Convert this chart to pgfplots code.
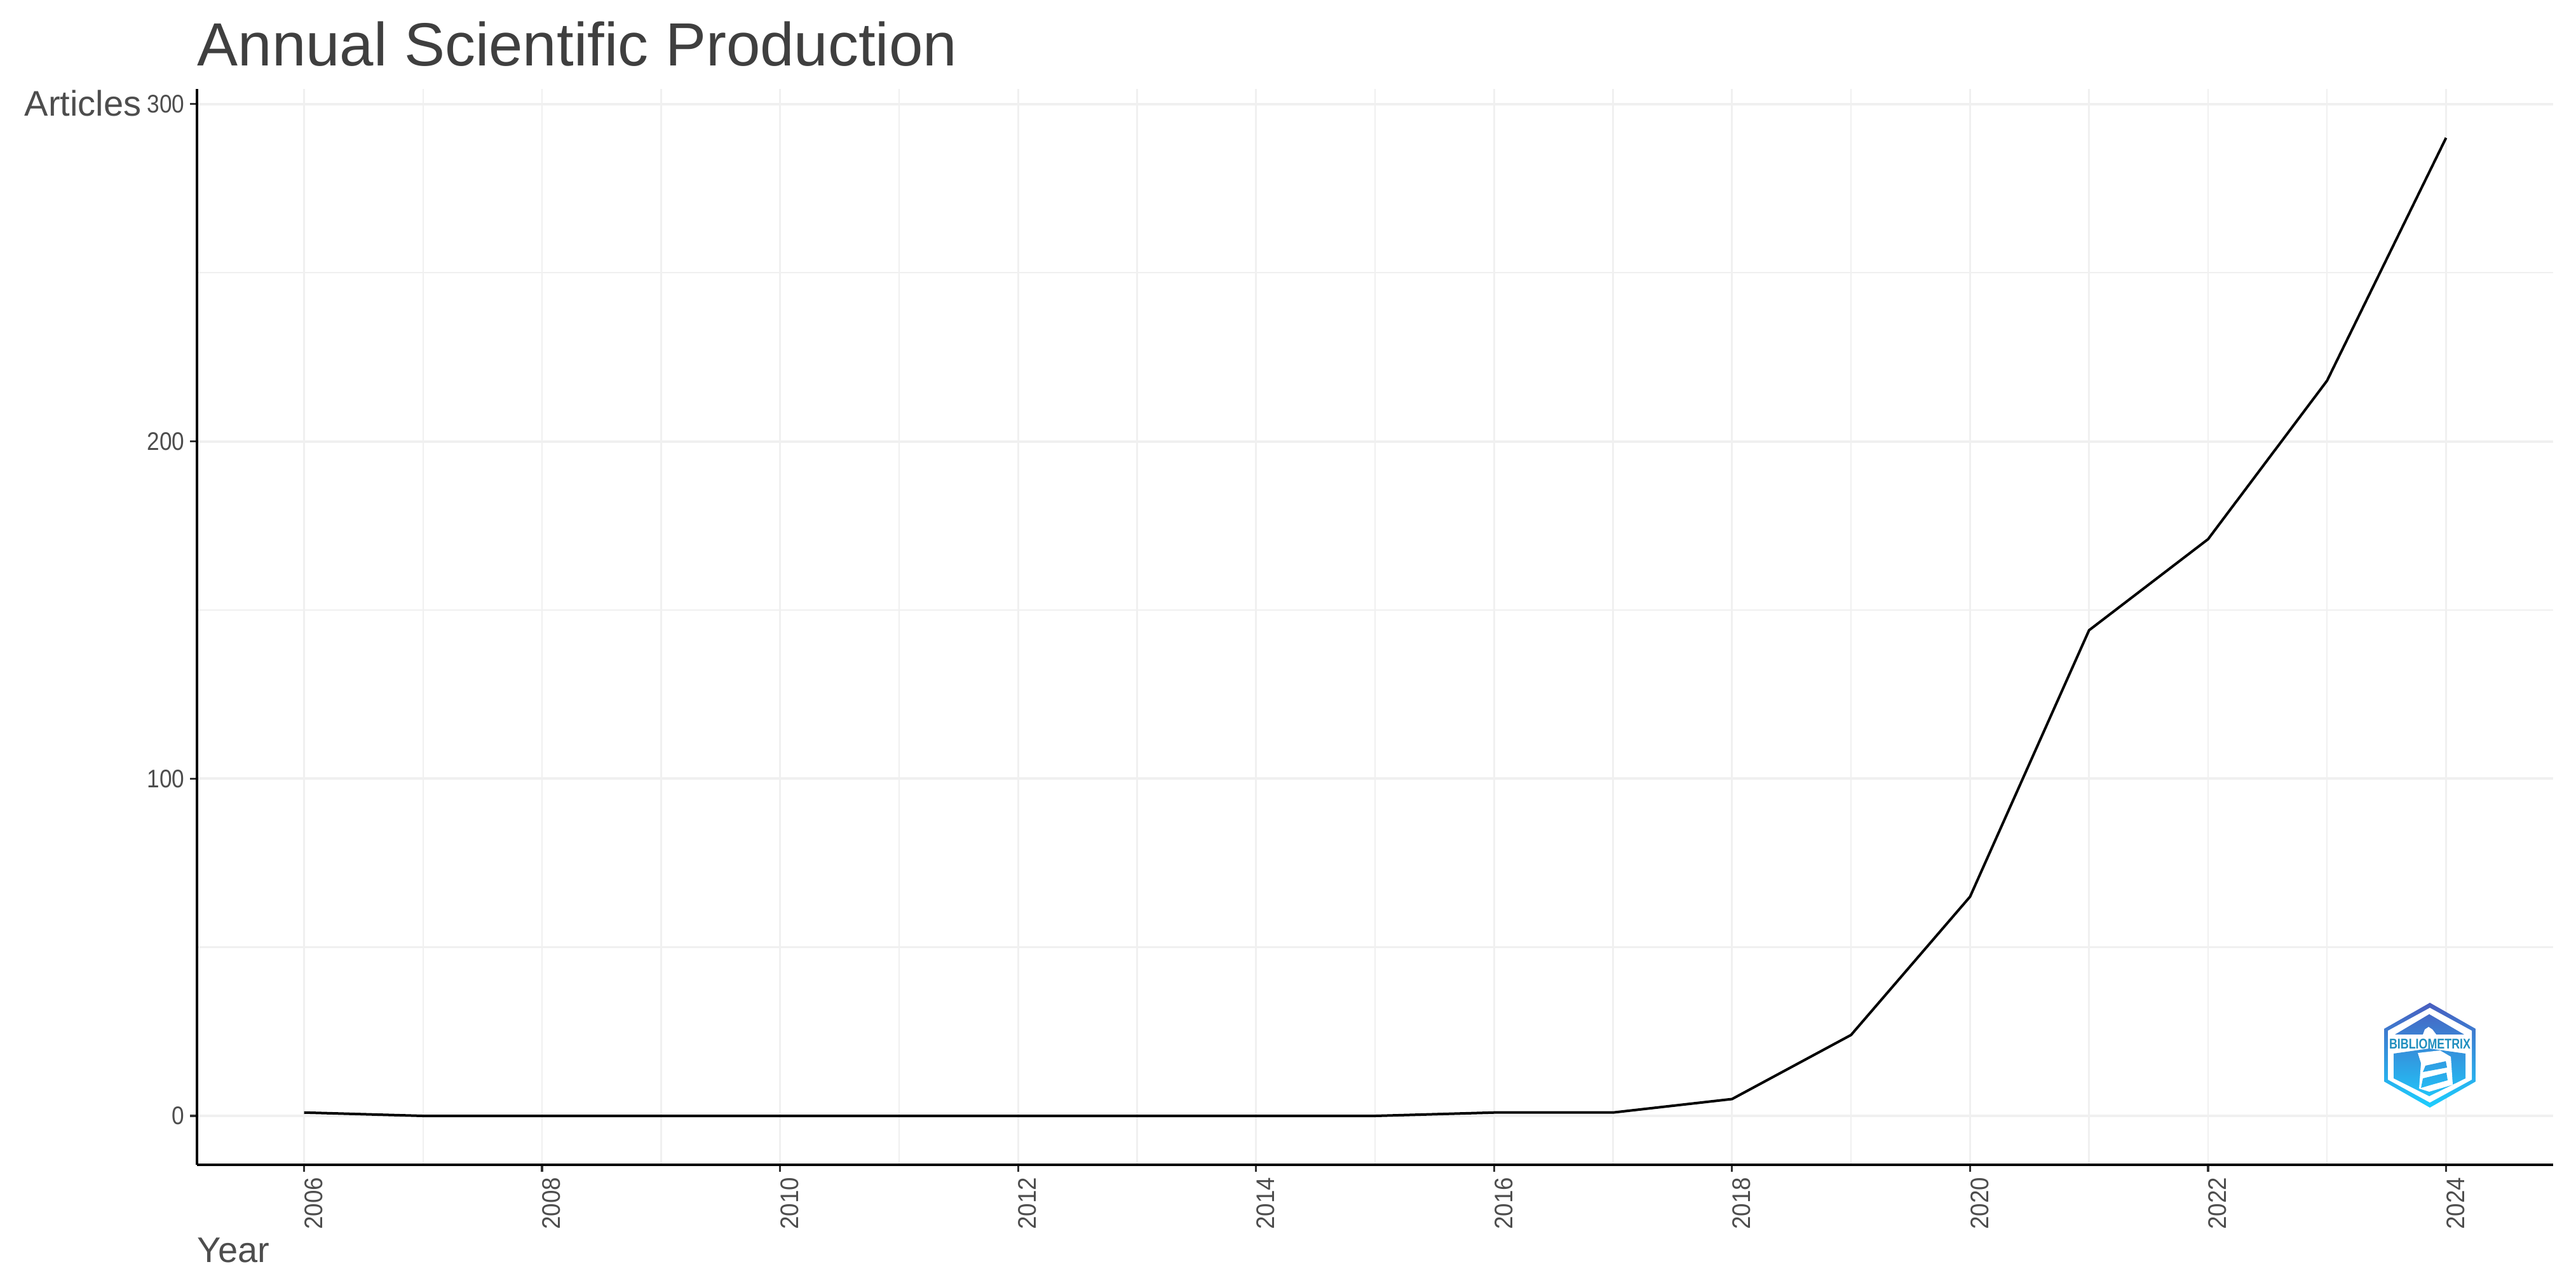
\documentclass[border=0pt]{standalone}
\usepackage{fontspec}
\setmainfont{Liberation Sans}
\newfontface\tickfont[FakeStretch=0.88]{Liberation Sans}
\newfontface\xtickfont[FakeStretch=0.92]{Liberation Sans}
\usepackage{pgfplots}
\pgfplotsset{compat=1.18}
\definecolor{txt}{HTML}{4D4D4D}
\definecolor{ttl}{HTML}{3F3F3F}
\definecolor{gridc}{HTML}{F0F0F0}
\definecolor{lgtop}{HTML}{4A5CBE}
\definecolor{lgbot}{HTML}{1CD0FF}
\begin{document}
\begin{tikzpicture}
\useasboundingbox (-77.5pt,-46.5pt) rectangle (936pt,458.25pt);
\begin{axis}[
  at={(0pt,0pt)}, anchor=south west,
  scale only axis, width=927pt, height=423.25pt,
  xmin=2005.1, xmax=2024.9, ymin=-14.5, ymax=304.5,
  axis lines=left,
  axis line style={-, black, line width=1pt},
  xtick={2006,2008,...,2024},
  minor xtick={2007,2009,...,2023},
  ytick={0,100,200,300},
  minor ytick={50,150,250},
  grid=both,
  major grid style={gridc, line width=1pt},
  minor grid style={gridc, line width=0.6pt},
  every major x grid/.append style={line width=0.7pt},
  tick style={color=black!80, line width=0.8pt},
  major tick length=2.7pt,
  minor tick length=0pt,
  tick align=outside,
  /pgf/number format/assume math mode=true,
  /pgf/number format/1000 sep={},
  xticklabel style={font=\xtickfont\fontsize{10}{12}\selectfont, text=txt, rotate=90, anchor=north east, inner sep=0pt, yshift=0pt, xshift=-2pt},
  yticklabel style={font=\tickfont\fontsize{10}{12}\selectfont, text=txt, inner sep=0pt, xshift=-2pt},
  title={Annual Scientific Production},
  title style={font=\fontsize{24}{28}\selectfont, text=ttl, at={(0,1)}, anchor=base west, inner sep=0pt, yshift=3pt},
  xlabel={Year},
  xlabel style={font=\fontsize{14}{17}\selectfont, text=txt, at={(0,0)}, anchor=base west, inner sep=0pt, yshift=-38.5pt},
  ylabel={Articles},
  ylabel style={font=\fontsize{14}{17}\selectfont, text=txt, at={(0,1)}, rotate=-90, anchor=base west, inner sep=0pt, xshift=-68pt, yshift=-10.75pt},
  clip=false,
]
\addplot[black, line width=1pt, line join=round] coordinates {
(2006,1) (2007,0) (2008,0) (2009,0) (2010,0) (2011,0) (2012,0) (2013,0) (2014,0) (2015,0)
(2016,1) (2017,1) (2018,5) (2019,24) (2020,65) (2021,144) (2022,171) (2023,218) (2024,290)};
\end{axis}
% logo, in the reference's pixel coordinates
\begin{scope}[shift={(-77.5pt,458.25pt)}, x=0.25pt, y=-0.25pt]
\def\lgshade{\shade[top color=lgtop, bottom color=lgbot] (3750,1576) rectangle (3898,1745);}
\begin{scope}\clip (3824,1578)--(3896,1619)--(3896,1702)--(3824,1743)--(3752,1702)--(3752,1619)--cycle; \lgshade\end{scope}
\fill[white] (3824,1586)--(3890,1622)--(3890,1699)--(3824,1735)--(3758,1699)--(3758,1622)--cycle;
\begin{scope}\clip (3823,1596)--(3878,1628)--(3769,1628)--cycle; \lgshade\end{scope}
\begin{scope}\clip (3767,1658)--(3823,1650)--(3880,1658)--(3880,1697)--(3823,1725)--(3767,1697)--cycle; \lgshade\end{scope}
\fill[white] (3813,1628)--(3816,1620)--(3822,1616)--(3828,1620)--(3834,1628)--cycle;
\fill[white] (3805,1657)--(3840,1653)--(3857,1663)--(3860,1707)--(3823,1718)--(3807,1713)--(3810,1673)--cycle;
\begin{scope}\clip (3817,1677)--(3849,1670)--(3851,1680)--(3813,1687)--cycle; \lgshade\end{scope}
\begin{scope}\clip (3813,1697)--(3850,1688)--(3852,1700)--(3827,1707)--(3810,1712)--cycle; \lgshade\end{scope}
\node[inner sep=0pt, text=lgtop!25!lgbot!80!black] at (3824,1643) {\resizebox{32pt}{3.9pt}{\bfseries BIBLIOMETRIX}};
\end{scope}
\end{tikzpicture}
\end{document}
